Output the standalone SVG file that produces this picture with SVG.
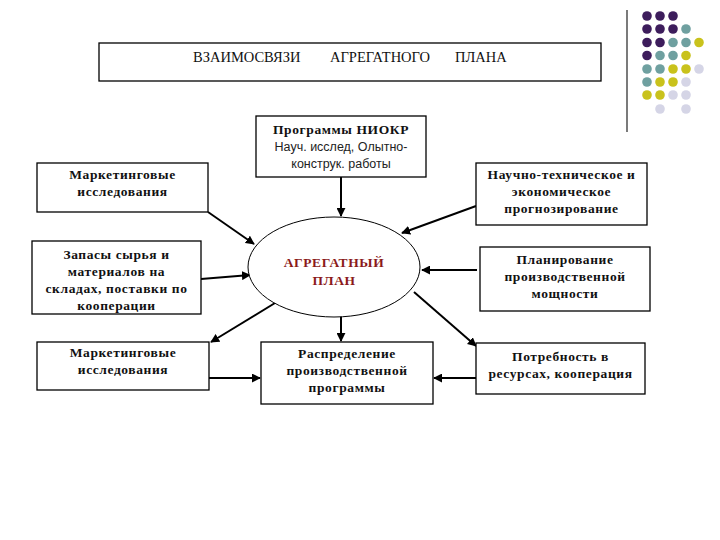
<svg xmlns="http://www.w3.org/2000/svg" width="720" height="540" viewBox="0 0 720 540">
<defs>
<marker id="ah" viewBox="0 0 10 10" refX="9" refY="5" markerWidth="4.5" markerHeight="4.5" orient="auto" markerUnits="strokeWidth">
<path d="M0,0 L10,5 L0,10 z" fill="#000"/>
</marker>
<style>
.box{fill:#fff;stroke:#000;stroke-width:1.3}
.t{font-family:"Liberation Serif","DejaVu Serif",serif;font-size:13.5px;font-weight:bold;letter-spacing:0.6px;fill:#111;text-anchor:middle}
.n{font-family:"Liberation Sans","DejaVu Sans",sans-serif;font-size:12.5px;fill:#222;text-anchor:middle}
.c{stroke:#000;stroke-width:2;fill:none;marker-end:url(#ah)}
.p{fill:#3d1d5c}.g{fill:#6fa0a0}.y{fill:#c9c21c}.l{fill:#d5d5e6}
</style>
</defs>
<rect width="720" height="540" fill="#fff"/>
<g id="decor">
<line x1="627" y1="10" x2="627" y2="132" stroke="#333" stroke-width="1.3"/>
<circle class="p" cx="647" cy="16" r="4.8"/><circle class="p" cx="660" cy="16" r="4.8"/><circle class="p" cx="673" cy="16" r="4.8"/>
<circle class="p" cx="647" cy="29" r="4.8"/><circle class="p" cx="660" cy="29" r="4.8"/><circle class="p" cx="673" cy="29" r="4.8"/><circle class="g" cx="686" cy="29" r="4.8"/>
<circle class="p" cx="647" cy="42.5" r="4.8"/><circle class="p" cx="660" cy="42.5" r="4.8"/><circle class="g" cx="673" cy="42.5" r="4.8"/><circle class="g" cx="686" cy="42.5" r="4.8"/><circle class="y" cx="699" cy="42.5" r="4.8"/>
<circle class="p" cx="647" cy="55.5" r="4.8"/><circle class="g" cx="660" cy="55.5" r="4.8"/><circle class="g" cx="673" cy="55.5" r="4.8"/><circle class="y" cx="686" cy="55.5" r="4.8"/>
<circle class="g" cx="647" cy="69" r="4.8"/><circle class="g" cx="660" cy="69" r="4.8"/><circle class="y" cx="673" cy="69" r="4.8"/><circle class="y" cx="686" cy="69" r="4.8"/><circle class="l" cx="699" cy="69" r="4.8"/>
<circle class="g" cx="647" cy="82" r="4.8"/><circle class="y" cx="660" cy="82" r="4.8"/><circle class="y" cx="673" cy="82" r="4.8"/><circle class="l" cx="686" cy="82" r="4.8"/>
<circle class="y" cx="647" cy="95" r="4.8"/><circle class="y" cx="660" cy="95" r="4.8"/><circle class="l" cx="673" cy="95" r="4.8"/><circle class="l" cx="686" cy="95" r="4.8"/>
<circle class="l" cx="660" cy="109" r="4.8"/><circle class="l" cx="686" cy="109" r="4.8"/>
</g>
<g id="title">
<rect class="box" x="99" y="43" width="502" height="38"/>
<text font-family="Liberation Serif, DejaVu Serif, serif" font-size="14.5" fill="#111" y="62"><tspan x="193">ВЗАИМОСВЯЗИ</tspan><tspan x="330">АГРЕГАТНОГО</tspan><tspan x="455">ПЛАНА</tspan></text>
</g>
<g id="connectors">
<line class="c" x1="208" y1="212" x2="254" y2="244"/>
<line class="c" x1="201" y1="279" x2="250" y2="275"/>
<line class="c" x1="275" y1="303" x2="211" y2="342"/>
<line class="c" x1="341" y1="177" x2="341" y2="216"/>
<line class="c" x1="476" y1="206" x2="402" y2="233"/>
<line class="c" x1="477" y1="270" x2="422" y2="270"/>
<line class="c" x1="414" y1="292" x2="476" y2="346"/>
<line class="c" x1="341" y1="316" x2="341" y2="341"/>
<line class="c" x1="209" y1="378" x2="260" y2="378"/>
<line class="c" x1="476" y1="378" x2="434" y2="378"/>
</g>
<g id="mk1">
<rect class="box" x="37" y="163" width="171" height="49"/>
<text class="t" x="122.5" y="179">Маркетинговые</text>
<text class="t" x="122.5" y="196">исследования</text>
</g>
<g id="zapasy">
<rect class="box" x="32" y="241" width="169" height="73"/>
<text class="t" x="116.5" y="259">Запасы сырья и</text>
<text class="t" x="116.5" y="276">материалов на</text>
<text class="t" x="116.5" y="293">складах, поставки по</text>
<text class="t" x="116.5" y="310">кооперации</text>
</g>
<g id="mk2">
<rect class="box" x="37" y="342" width="172" height="48"/>
<text class="t" x="123" y="357">Маркетинговые</text>
<text class="t" x="123" y="374">исследования</text>
</g>
<g id="niokr">
<rect class="box" x="256" y="116" width="170" height="61"/>
<text class="t" x="341" y="134">Программы НИОКР</text>
<text class="n" x="341" y="151">Науч. исслед,  Олытно-</text>
<text class="n" x="341" y="168">конструк. работы</text>
</g>
<g id="plan">
<ellipse cx="334" cy="267" rx="86" ry="50" fill="#fff" stroke="#000" stroke-width="1"/>
<text class="t" x="334" y="267" style="fill:#8b1a1a">АГРЕГАТНЫЙ</text>
<text class="t" x="334" y="285" style="fill:#8b1a1a">ПЛАН</text>
</g>
<g id="raspr">
<rect class="box" x="261" y="342" width="172" height="62"/>
<text class="t" x="347" y="358">Распределение</text>
<text class="t" x="347" y="375">производственной</text>
<text class="t" x="347" y="392">программы</text>
</g>
<g id="ntp">
<rect class="box" x="476" y="163" width="171" height="62"/>
<text class="t" x="561.5" y="179">Научно-техническое и</text>
<text class="t" x="561.5" y="196">экономическое</text>
<text class="t" x="561.5" y="213">прогнозирование</text>
</g>
<g id="plm">
<rect class="box" x="480" y="247" width="170" height="64"/>
<text class="t" x="565" y="264">Планирование</text>
<text class="t" x="565" y="281">производственной</text>
<text class="t" x="565" y="298">мощности</text>
</g>
<g id="potr">
<rect class="box" x="476" y="343" width="169" height="51"/>
<text class="t" x="560.5" y="361">Потребность в</text>
<text class="t" x="560.5" y="378">ресурсах, кооперация</text>
</g>
</svg>
